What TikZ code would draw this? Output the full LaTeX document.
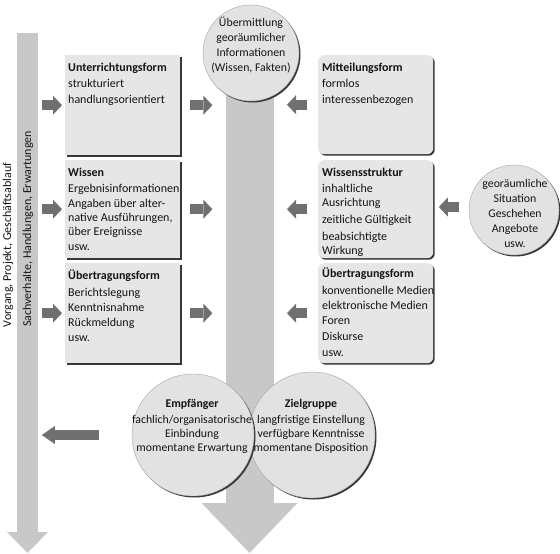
\documentclass[tikz,border=0pt]{standalone}
\usepackage{fontspec}
\setmainfont{Carlito}
\usetikzlibrary{arrows.meta,shadows}
\definecolor{boxfill}{RGB}{230,230,230}
\definecolor{circfill}{RGB}{226,226,226}
\definecolor{bigarr}{RGB}{200,200,200}
\definecolor{smallarr}{RGB}{112,112,112}
\definecolor{shadowc}{RGB}{55,55,55}
\definecolor{txt}{RGB}{20,20,20}
\begin{document}
\begin{tikzpicture}[x=1pt,y=-1pt,
  every node/.style={text=txt},
  txtfont/.style={font=\fontsize{12}{14}\selectfont},
  ctxtfont/.style={font=\fontsize{11.8}{14}\selectfont},
  sqbox/.style={rectangle, fill=boxfill, minimum width=115pt, anchor=north west, inner sep=0pt,
    drop shadow={shadow xshift=1.5pt, shadow yshift=-1.5pt, fill=shadowc, opacity=1}},
  rdbox/.style={sqbox, rounded corners=6pt},
  boxtext/.style={txtfont, anchor=north west, inner sep=0pt, align=left},
  circ/.style={circle, fill=circfill, draw=gray!70, line width=0.4pt, inner sep=0pt,
    drop shadow={shadow xshift=1.5pt, shadow yshift=-1.5pt, fill=shadowc, opacity=1}},
  circtext/.style={ctxtfont, align=center, inner sep=0pt},
  bigarrow/.style={draw=bigarr, line width=21pt, -{Triangle[length=21pt,width=41pt,line width=0pt]}},
  centerarrow/.style={draw=bigarr, line width=48pt, -{Triangle[length=50pt,width=96pt,line width=0pt]}},
  smallarrow/.style={draw=smallarr, line width=10pt, -{Triangle[length=9pt,width=19pt,line width=0pt]}}
]
\fill[white] (0,0) rectangle (560,554);
\useasboundingbox (0,0) rectangle (560,554);

% big background arrows
\coordinate (ltop) at (27.5,33);
\coordinate (lbot) at (27.5,553);
\draw[bigarrow] (ltop) -- (lbot);
\coordinate (ctop) at (249.5,60);
\coordinate (cbot) at (249.5,553);
\draw[centerarrow] (ctop) -- (cbot);

% vertical labels
\node[txtfont, rotate=90, inner sep=0pt] (vorg) at (8,245) {Vorgang, Projekt, Geschäftsablauf};
\node[txtfont, rotate=90, inner sep=0pt] (sach) at (28,229) {Sachverhalte, Handlungen, Erwartungen};

% left boxes
\node[sqbox, minimum height=100pt] (lb1) at (65,55) {};
\node[sqbox, minimum height=98pt] (lb2) at (65,160) {};
\node[sqbox, minimum height=100pt] (lb3) at (65,263) {};
\node[boxtext] (lb1t) at ([xshift=3pt,yshift=-6pt]lb1.north west)
  {\rule{0pt}{10pt}\textbf{Unterrichtungsform}\\[2pt]strukturiert\\[2pt]handlungsorientiert};
\node[boxtext] (lb2t) at ([xshift=3pt,yshift=-6pt]lb2.north west)
  {\rule{0pt}{10pt}\textbf{Wissen}\\[2pt]Ergebnisinformationen\\[1pt]Angaben über alter-\\native Ausführungen,\\über Ereignisse\\[1pt]usw.};
\node[boxtext] (lb3t) at ([xshift=3pt,yshift=-6pt]lb3.north west)
  {\rule{0pt}{10pt}\textbf{Übertragungsform}\\[3pt]Berichtslegung\\[1pt]Kenntnisnahme\\[1pt]Rückmeldung\\[1pt]usw.};

% right boxes
\node[rdbox, minimum height=99pt] (rb1) at (318,55) {};
\node[rdbox, minimum height=98pt] (rb2) at (318,160) {};
\node[rdbox, minimum height=100pt] (rb3) at (318,263) {};
\node[boxtext] (rb1t) at ([xshift=4pt,yshift=-6pt]rb1.north west)
  {\rule{0pt}{10pt}\textbf{Mitteilungsform}\\[2pt]formlos\\[2pt]interessenbezogen};
\node[boxtext] (rb2t) at ([xshift=4pt,yshift=-6pt]rb2.north west)
  {\rule{0pt}{10pt}\textbf{Wissensstruktur}\\[2pt]inhaltliche\\Ausrichtung\\[3pt]zeitliche Gültigkeit\\[3pt]beabsichtigte\\Wirkung};
\node[boxtext] (rb3t) at ([xshift=4pt,yshift=-4pt]rb3.north west)
  {\rule{0pt}{10pt}\textbf{Übertragungsform}\\[3pt]konventionelle Medien\\[1pt]elektronische Medien\\[1pt]Foren\\[2pt]Diskurse\\[2pt]usw.};

% circles
\node[circ, minimum size=96pt] (trans) at (251,53) {};
\node[circtext] (transt) at (251,45) {Übermittlung\\[1pt]georäumlicher\\[1pt]Informationen\\[1pt](Wissen, Fakten)};
\node[circ, minimum size=90pt] (geo) at (514,210) {};
\node[circtext] (geot) at (515,213) {georäumliche\\[1pt]Situation\\[1pt]Geschehen\\[1pt]Angebote\\[1pt]usw.};
\node[circ, minimum size=126pt] (zg) at (312,435) {};
\node[circ, minimum size=122pt] (emp) at (193,435) {};
\node[circtext] (empt) at (192,426) {\textbf{Empfänger}\\[2pt]fachlich/organisatorische\\Einbindung\\momentane Erwartung};
\node[circtext] (zgt) at (311,426) {\textbf{Zielgruppe}\\[2pt]langfristige Einstellung\\verfügbare Kenntnisse\\momentane Disposition};

% small arrows
\draw[smallarrow] ([xshift=-23pt]lb1.west) -- ([xshift=-3pt]lb1.west);
\draw[smallarrow] ([xshift=-23pt]lb2.west) -- ([xshift=-3pt]lb2.west);
\draw[smallarrow] ([xshift=-23pt]lb3.west) -- ([xshift=-3pt]lb3.west);
\draw[smallarrow] ([xshift=10pt]lb1.east) -- ([xshift=32pt]lb1.east);
\draw[smallarrow] ([xshift=10pt]lb2.east) -- ([xshift=32pt]lb2.east);
\draw[smallarrow] ([xshift=10pt]lb3.east) -- ([xshift=32pt]lb3.east);
\draw[smallarrow] ([xshift=-11pt]rb1.west) -- ([xshift=-31pt]rb1.west);
\draw[smallarrow] ([xshift=-11pt]rb2.west) -- ([xshift=-31pt]rb2.west);
\draw[smallarrow] ([xshift=-11pt]rb3.west) -- ([xshift=-31pt]rb3.west);
\draw[smallarrow] ([xshift=-10pt,yshift=3pt]geo.west) -- ([xshift=-30pt,yshift=3pt]geo.west);
\draw[smallarrow, -{Triangle[length=13pt,width=18pt,line width=0pt]}] ([xshift=-33pt]emp.west) -- ([xshift=-90pt]emp.west);
\end{tikzpicture}
\end{document}
